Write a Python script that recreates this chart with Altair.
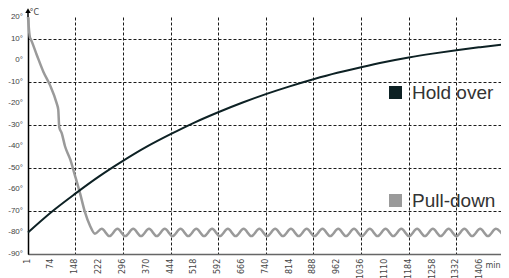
import altair as alt
import pandas as pd

series = ["Hold over", "Pull-down"]
colors = ["#0d2124", "#9a9a9a"]

hold_t = [1, 74, 148, 222, 296, 370, 444, 518, 592, 666, 740, 814, 888, 962,
          1036, 1110, 1184, 1258, 1332, 1406, 1480]
hold_v = [-80, -70.5, -62, -54, -46.8, -40.2, -34.4, -29, -24.2, -19.8, -15.8,
          -12.2, -8.9, -5.9, -3.3, -0.9, 1.2, 3.0, 4.6, 6.0, 7.3]

pull_t = [1, 7, 9, 28, 49, 69, 90, 95, 98, 106, 116, 132, 147, 163, 178, 194,
          209, 230, 254, 279, 303, 328, 352, 377, 401, 426, 450, 475, 499, 524,
          548, 573, 597, 622, 646, 671, 695, 720, 744, 769, 793, 818, 842, 867,
          891, 916, 940, 965, 989, 1014, 1038, 1063, 1087, 1112, 1136, 1161,
          1185, 1210, 1234, 1259, 1283, 1308, 1332, 1357, 1381, 1406, 1430,
          1455, 1479]
pull_v = [20, 10.5, 9.9, 2.5, -5.5, -11.5, -20, -23, -31, -34, -40, -46, -53.6,
          -62, -70.6, -77, -80.6, -78.3, -81.7, -78.3, -81.7, -78.3, -81.7,
          -78.3, -81.7, -78.3, -81.7, -78.3, -81.7, -78.3, -81.7, -78.3, -81.7,
          -78.3, -81.7, -78.3, -81.7, -78.3, -81.7, -78.3, -81.7, -78.3, -81.7,
          -78.3, -81.7, -78.3, -81.7, -78.3, -81.7, -78.3, -81.7, -78.3, -81.7,
          -78.3, -81.7, -78.3, -81.7, -78.3, -81.7, -78.3, -81.7, -78.3, -81.7,
          -78.3, -81.7, -78.3, -81.7, -78.3, -81.7]

x_ticks = [1, 74, 148, 222, 296, 370, 444, 518, 592, 666, 740, 814, 888, 962,
           1036, 1110, 1184, 1258, 1332, 1406, 1480]
x_tick_labels = ["1", "74", "148", "222", "296", "370", "444", "518", "592",
                 "666", "740", "814", "888", "962", "1036", "1110", "1184",
                 "1258", "1332", "1406"]
y_ticks = [-90, -80, -70, -60, -50, -40, -30, -20, -10, 0, 10, 20]
y_tick_labels = ["-90°", "-80°", "-70°", "-60°", "-50°", "-40°", "-30°",
                 "-20°", "-10°", "0°", "10°", "20°"]

df_hold = pd.DataFrame({"t": hold_t, "v": hold_v, "s": series[0]})
df_pull = pd.DataFrame({"t": pull_t, "v": pull_v, "s": series[1]})
df_xlab = pd.DataFrame({"t": x_ticks[:len(x_tick_labels)], "label": x_tick_labels})
df_ylab = pd.DataFrame({"v": y_ticks, "label": y_tick_labels})

tick_font = "DejaVu Sans"
label_color = "#444444"

x_scale = alt.Scale(domain=[1, 1480], nice=False, zero=False)
y_scale = alt.Scale(domain=[-90, 20], nice=False, zero=False)

x_enc = alt.X(
    "t:Q", scale=x_scale,
    axis=alt.Axis(
        values=x_ticks, labels=False, ticks=False, grid=True,
        domainColor="#666666", domainWidth=1.5,
        title="min", titleAngle=0, titleX=457, titleY=11,
        titleAlign="left", titleBaseline="middle",
        titleFontSize=8, titleFontWeight="normal", titleColor=label_color,
        titleFont=tick_font,
    ),
)
y_enc = alt.Y(
    "v:Q", scale=y_scale,
    axis=alt.Axis(
        values=y_ticks, labels=False, ticks=False, grid=True,
        domainColor="#000000", domainWidth=1.5,
        title="°C", titleAngle=0, titleX=1, titleY=-2.5,
        titleAlign="left", titleBaseline="alphabetic",
        titleFontSize=8, titleFontWeight="normal", titleColor=label_color,
        titleFont=tick_font,
    ),
)

color = alt.Color(
    "s:N",
    scale=alt.Scale(domain=series, range=colors),
    legend=alt.Legend(
        orient="none", legendX=358, legendY=66, title=None,
        symbolType="square", symbolSize=42, symbolStrokeWidth=6.5,
        labelFontSize=19, labelFont="Liberation Sans", labelColor="#333333",
        labelOffset=7, rowPadding=75, padding=0, direction="vertical",
    ),
)

pull = alt.Chart(df_pull).mark_line(interpolate="monotone", strokeWidth=2.5).encode(
    x=x_enc, y=y_enc, color=color
)
hold = alt.Chart(df_hold).mark_line(interpolate="monotone", strokeWidth=2).encode(
    x=x_enc, y=y_enc, color=color
)

x_labels = alt.Chart(df_xlab).mark_text(
    angle=270, align="right", baseline="middle", font=tick_font, fontSize=8,
    color=label_color,
).encode(x=alt.X("t:Q", scale=x_scale), y=alt.datum(-92.2), text="label:N")

y_labels = alt.Chart(df_ylab).mark_text(
    align="right", baseline="middle", font="Liberation Sans", fontSize=8,
    color=label_color, dx=-5,
).encode(x=alt.datum(1), y=alt.Y("v:Q", scale=y_scale), text="label:N")

y_arrow_line = alt.Chart().mark_rule(color="#000000", strokeWidth=1.5).encode(
    x=alt.datum(1), y=alt.datum(20), y2=alt.datum(22.5)
)
y_arrow_head = alt.Chart().mark_point(
    shape="triangle-up", filled=True, size=30, color="#000000", opacity=1
).encode(x=alt.datum(1), y=alt.datum(23))
x_arrow_line = alt.Chart().mark_rule(color="#666666", strokeWidth=1.5).encode(
    x=alt.datum(1480), x2=alt.datum(1486), y=alt.datum(-90)
)
x_arrow_head = alt.Chart().mark_point(
    shape="triangle-right", filled=True, size=30, color="#444444", opacity=1
).encode(x=alt.datum(1489), y=alt.datum(-90))

chart = (
    alt.layer(pull, hold, x_labels, y_labels,
              y_arrow_line, y_arrow_head, x_arrow_line, x_arrow_head)
    .properties(
        width=476, height=237,
        autosize=alt.AutoSizeParams(type="none"),
        padding={"left": 20, "top": 9, "right": -3, "bottom": 24},
        background="#ffffff",
    )
    .configure_view(stroke=None)
    .configure_axis(
        gridColor="#1a1a1a", gridDash=[3, 2], gridWidth=1, gridOpacity=1,
    )
)

chart.save("out.html", embed_options={"renderer": "svg", "actions": False})
